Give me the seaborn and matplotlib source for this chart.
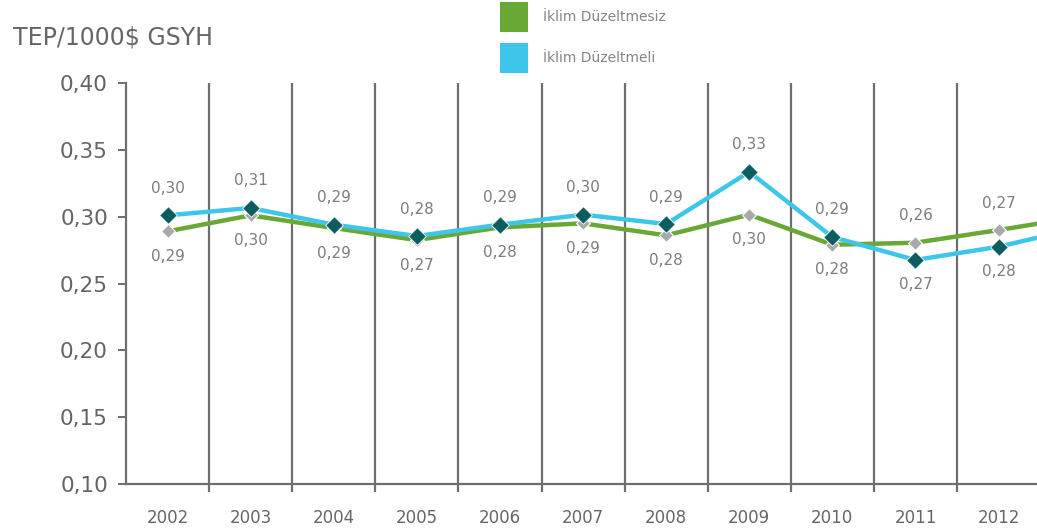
import matplotlib
matplotlib.use("Agg")
import matplotlib.pyplot as plt
from matplotlib.patches import Patch
import seaborn as sns
import pandas as pd

# ---- data ----
years = ["2002", "2003", "2004", "2005", "2006", "2007", "2008", "2009", "2010", "2011", "2012"]
# last value (2013) continues beyond the visible area
duzeltmesiz = [0.289, 0.301, 0.2915, 0.2825, 0.292, 0.295, 0.286, 0.3015, 0.279, 0.2805, 0.290, 0.300]
duzeltmeli = [0.301, 0.3065, 0.294, 0.2855, 0.294, 0.3015, 0.2945, 0.3335, 0.2848, 0.2676, 0.2775, 0.292]
labels_top = ["0,30", "0,31", "0,29", "0,28", "0,29", "0,30", "0,29", "0,33", "0,29", "0,26", "0,27"]
labels_bottom = ["0,29", "0,30", "0,29", "0,27", "0,28", "0,29", "0,28", "0,30", "0,28", "0,27", "0,28"]
yticks = [0.10, 0.15, 0.20, 0.25, 0.30, 0.35, 0.40]
series_names = ["İklim Düzeltmesiz", "İklim Düzeltmeli"]
ylabel_text = "TEP/1000$ GSYH"

GREEN = "#6aa836"
CYAN = "#3ec6ea"
TEAL = "#0b5d5f"
GREYM = "#a9a9a9"
AXC = "#6e6e6e"
TXT = "#666666"

sns.set_theme(style="white")
plt.rcParams["font.family"] = ["DejaVu Sans"]

fig = plt.figure(figsize=(10.37, 5.29), dpi=100)
ax = fig.add_axes([126 / 1037, 45 / 529, 1 - 126 / 1037, 401 / 529])

idx = list(range(len(duzeltmesiz)))
df = pd.DataFrame({
    "x": idx + idx,
    "y": duzeltmesiz + duzeltmeli,
    "seri": [series_names[0]] * len(idx) + [series_names[1]] * len(idx),
})

sns.lineplot(data=df[df.seri == series_names[0]], x="x", y="y", color=GREEN,
             linewidth=3.2, ax=ax, legend=False, zorder=3)
sns.lineplot(data=df[df.seri == series_names[1]], x="x", y="y", color=CYAN,
             linewidth=3.2, ax=ax, legend=False, zorder=4)
sns.scatterplot(data=df[df.seri == series_names[0]], x="x", y="y", marker="D",
                color=GREYM, s=50, edgecolor="white", linewidth=0.8, ax=ax,
                legend=False, zorder=5)
sns.scatterplot(data=df[df.seri == series_names[1]], x="x", y="y", marker="D",
                color=TEAL, s=80, edgecolor="white", linewidth=0.6, ax=ax,
                legend=False, zorder=6)

# value labels
for i in range(len(years)):
    hi = max(duzeltmesiz[i], duzeltmeli[i])
    lo = min(duzeltmesiz[i], duzeltmeli[i])
    ax.annotate(labels_top[i], (i, hi), xytext=(0, 27), textcoords="offset pixels",
                ha="center", va="center", fontsize=11, color="#7d7d7d")
    ax.annotate(labels_bottom[i], (i, lo), xytext=(0, -25), textcoords="offset pixels",
                ha="center", va="center", fontsize=11, color="#7d7d7d")

ax.set_xlim(-0.5, -0.5 + 911 / 83.1)
ax.set_ylim(0.10, 0.40)
ax.set_xlabel("")
ax.set_ylabel("")

ax.set_xticks(range(len(years)))
ax.set_xticklabels(years)
ax.set_xticks([i + 0.5 for i in range(len(years) - 1)], minor=True)
ax.tick_params(axis="x", which="major", length=0, pad=18, labelsize=12, labelcolor=TXT)
ax.tick_params(axis="x", which="minor", length=6, width=1.6, color=AXC, direction="out", bottom=True)
ax.grid(False)
ax.grid(axis="x", which="minor", color=AXC, linewidth=1.6)

ax.set_yticks(yticks)
ax.set_yticklabels([f"{v:.2f}".replace(".", ",") for v in yticks])
ax.tick_params(axis="y", length=6, width=1.4, color=AXC, direction="out", left=True,
               pad=7, labelsize=15.5, labelcolor="#646464")

for s in ["top", "right"]:
    ax.spines[s].set_visible(False)
for s in ["left", "bottom"]:
    ax.spines[s].set_color(AXC)
    ax.spines[s].set_linewidth(1.6)

fig.text(13 / 1037, 1 - 38 / 529, ylabel_text, ha="left", va="center",
         fontsize=17, color="#666666")

handles = [Patch(facecolor=GREEN, edgecolor="none"), Patch(facecolor=CYAN, edgecolor="none")]
fig.legend(handles, series_names, loc="upper left",
           bbox_to_anchor=(500 / 1037, 1 - 2 / 529), frameon=False,
           fontsize=10, labelcolor="#858585", handlelength=2.0, handleheight=2.9,
           labelspacing=0.85, handletextpad=1.1, borderpad=0, borderaxespad=0)

fig.savefig("out.png", dpi=100)
